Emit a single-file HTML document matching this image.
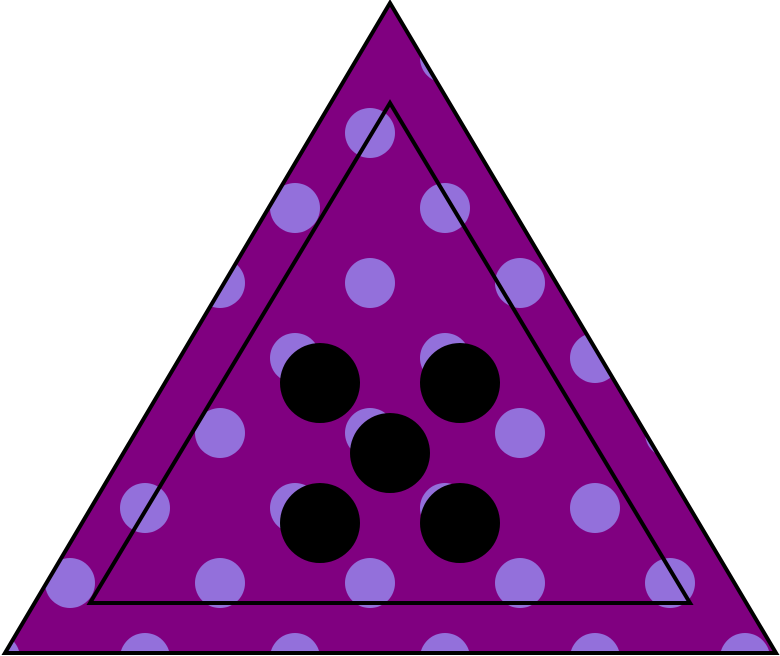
<!DOCTYPE html>
<html><head><meta charset="utf-8"><style>html,body{margin:0;padding:0;background:#fff}svg{display:block}</style></head>
<body>
<svg id="fig" width="780" height="656" viewBox="0 0 780 656" xmlns="http://www.w3.org/2000/svg">
<defs>
<pattern id="dots" patternUnits="userSpaceOnUse" x="-5" y="58" width="150" height="150">
<rect width="150" height="150" fill="#800080"/>
<circle cx="75" cy="75" r="25" fill="#9370DB"/>
<circle cx="0" cy="0" r="25" fill="#9370DB"/>
<circle cx="150" cy="0" r="25" fill="#9370DB"/>
<circle cx="0" cy="150" r="25" fill="#9370DB"/>
<circle cx="150" cy="150" r="25" fill="#9370DB"/>
</pattern>
</defs>
<polygon points="390,3 5,653 776,653" fill="url(#dots)" stroke="#000" stroke-width="4" stroke-linejoin="miter"/>
<polygon points="390,103 90,603 690,603" fill="none" stroke="#000" stroke-width="4"/>
<g id="blackDots"></g>
</svg>
<script>
const dotX = [320, 460, 390, 320, 460];
const dotY = [383, 383, 453, 523, 523];
const g = document.getElementById('blackDots');
for (let i = 0; i < dotX.length; i++) {
  const c = document.createElementNS('http://www.w3.org/2000/svg', 'circle');
  c.setAttribute('cx', dotX[i]);
  c.setAttribute('cy', dotY[i]);
  c.setAttribute('r', 40);
  c.setAttribute('fill', '#000');
  
  
  g.appendChild(c);
}
</script>
</body></html>
